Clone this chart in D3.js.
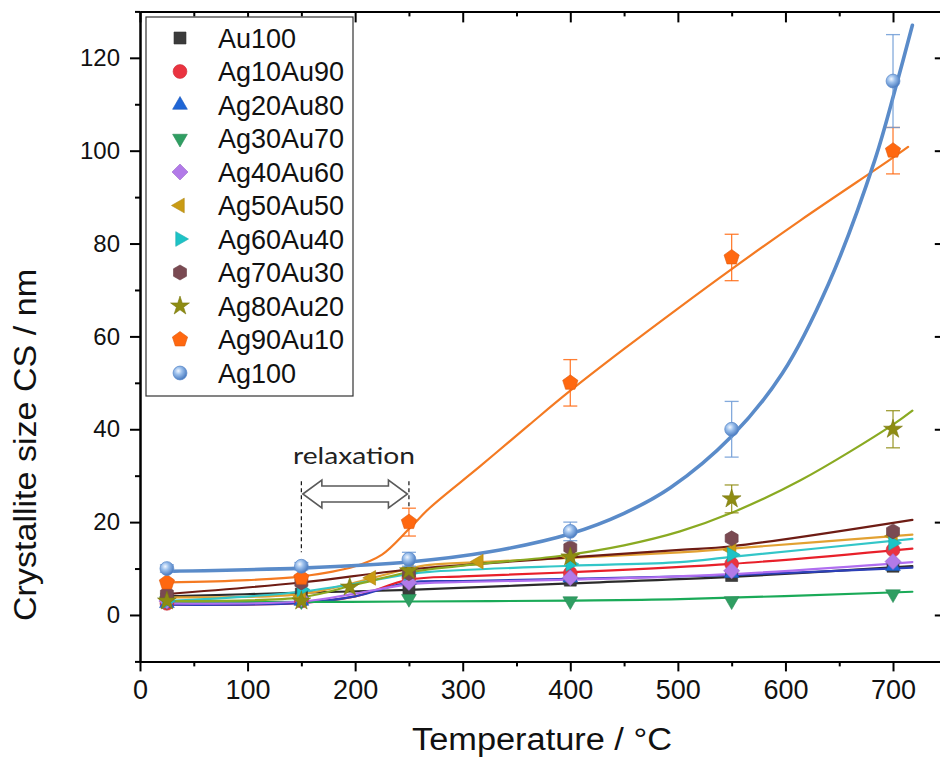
<!DOCTYPE html>
<html>
<head>
<meta charset="utf-8">
<script src="https://cdn.jsdelivr.net/npm/d3@7"></script>
<style>
  body { margin: 0; background: #fff; }
  svg text { font-family: "Liberation Sans", Arial, sans-serif; fill: #111; }
</style>
</head>
<body>
<svg id="chart" width="940" height="761"></svg>
<script>
// ---- measured crystallite sizes (nm) at each annealing temperature (°C) ----
const temps     = [25, 150, 250, 400, 550, 700];
const tempsAg80 = [25, 150, 195, 250, 400, 550, 700];
const tempsAg50 = [25, 150, 215, 250, 315, 400, 550, 700];

const au100    = [3.5, 4.5, 5.5, 7.5, 8.5, 10.5];
const ag10au90 = [2.5, 3, 8, 9, 11, 14];
const ag20au80 = [2.5, 3, 7.5, 8, 9, 10.5];
const ag30au70 = [3, 3, 3.5, 3, 3, 4.5];
const ag40au60 = [3, 3.5, 7, 8, 9.5, 11.5];
const ag50au50 = [3.5, 4, 8, 10, 11.5, 12.5, 14, 17];
const ag60au40 = [3, 5.5, 9, 11, 13, 15.5];
const ag70au30 = [4.5, 7, 9, 14.5, 16.5, 18];
const ag80au20 = [3, 3, 6, 9.5, 12.5, 25, 40];
const ag90au10 = [7, 8, 20, 50, 77, 100];
const ag100    = [10, 10.5, 12, 18, 40, 115];

// error bar half-widths (nm)
const ag80au20Err = [0, 0, 0, 0, 0, 3, 4];
const ag90au10Err = [0, 0, 3, 5, 5, 5];
const ag100Err    = [0.8, 0.8, 1.5, 2, 6, 10];

// ---- fitted trend curves (temperature, size) ----
const au100FitT    = [25, 150, 250, 400, 550, 718];
const au100Fit     = [4, 4.8, 5.4, 6.8, 8.2, 10.5];
const ag10au90FitT = [25, 150, 200, 250, 300, 400, 550, 718];
const ag10au90Fit  = [2.3, 2.6, 4, 7.6, 8.3, 9.2, 11, 14.3];
const ag20au80FitT = [25, 150, 200, 250, 300, 400, 550, 718];
const ag20au80Fit  = [2.2, 2.6, 4, 7, 7.3, 7.8, 8.6, 10.2];
const ag30au70FitT = [25, 150, 250, 400, 502, 718];
const ag30au70Fit  = [2.8, 2.8, 2.9, 3.1, 3.4, 5];
const ag40au60FitT = [25, 150, 200, 250, 300, 400, 550, 718];
const ag40au60Fit  = [2.5, 2.9, 4.6, 6.6, 7.1, 7.6, 8.8, 11.4];
const ag50au50FitT = [25, 150, 200, 250, 269, 316, 400, 502, 550, 718];
const ag50au50Fit  = [3.8, 4.5, 7, 10, 10.8, 11.4, 12.3, 13.5, 14.3, 17.3];
const ag60au40FitT = [25, 150, 250, 269, 400, 502, 550, 718];
const ag60au40Fit  = [3, 5, 8.8, 9.3, 10.6, 11.4, 12.5, 16.4];
const ag70au30FitT = [25, 150, 250, 400, 502, 550, 718];
const ag70au30Fit  = [4.5, 7, 9.8, 12.4, 14, 14.8, 20.5];
const ag80au20FitT = [25, 150, 200, 250, 316, 390, 450, 502, 550, 614, 700, 718];
const ag80au20Fit  = [3, 3.8, 6.5, 9.2, 11, 12.7, 15, 18, 22, 29, 41, 44];
const ag90au10FitT = [25, 100, 150, 200, 225, 250, 269, 316, 362, 400, 450, 500, 550, 614, 700, 714];
const ag90au10Fit  = [7, 7.5, 8.3, 10.5, 13, 18.5, 23, 32, 41, 48.3, 57.3, 66, 74.5, 85, 98.5, 100.8];
const ag100FitT    = [25, 150, 250, 325, 400, 450, 493, 550, 597, 640, 683, 704, 718];
const ag100Fit     = [9.4, 10.1, 11.4, 13.6, 17.5, 21.9, 27.4, 38.5, 52, 71.3, 97.9, 114.9, 127];

// axis ticks
const xMajorTicks = [0, 100, 200, 300, 400, 500, 600, 700];
const xMinorTicks = [50, 150, 250, 350, 450, 550, 650, 750];
const yMajorTicks = [0, 20, 40, 60, 80, 100, 120];
const yMinorTicks = [-10, 10, 30, 50, 70, 90, 110, 130];

// relaxation window
const relaxRange = [150, 250];

// ---- series definitions ----
const series = [
  { name: "Au100",    t: temps,     v: au100,    ft: au100FitT,    fv: au100Fit,    mark: "#3b3b3b", line: "#2b2b2b", shape: "square" },
  { name: "Ag10Au90", t: temps,     v: ag10au90, ft: ag10au90FitT, fv: ag10au90Fit, mark: "#ea3340", line: "#e8202a", shape: "circle" },
  { name: "Ag20Au80", t: temps,     v: ag20au80, ft: ag20au80FitT, fv: ag20au80Fit, mark: "#1f66d6", line: "#2c3fb8", shape: "triUp" },
  { name: "Ag30Au70", t: temps,     v: ag30au70, ft: ag30au70FitT, fv: ag30au70Fit, mark: "#2f9e62", line: "#1aaa58", shape: "triDown" },
  { name: "Ag40Au60", t: temps,     v: ag40au60, ft: ag40au60FitT, fv: ag40au60Fit, mark: "#b27ae8", line: "#b06ef0", shape: "diamond" },
  { name: "Ag50Au50", t: tempsAg50, v: ag50au50, ft: ag50au50FitT, fv: ag50au50Fit, mark: "#c99b14", line: "#e2a132", shape: "triLeft" },
  { name: "Ag60Au40", t: temps,     v: ag60au40, ft: ag60au40FitT, fv: ag60au40Fit, mark: "#1dc3c6", line: "#33c6c8", shape: "triRight" },
  { name: "Ag70Au30", t: temps,     v: ag70au30, ft: ag70au30FitT, fv: ag70au30Fit, mark: "#7a4a52", line: "#6e1c14", shape: "hexagon" },
  { name: "Ag80Au20", t: tempsAg80, v: ag80au20, ft: ag80au20FitT, fv: ag80au20Fit, mark: "#8e8c12", line: "#8aaa22", shape: "star", err: ag80au20Err },
  { name: "Ag90Au10", t: temps,     v: ag90au10, ft: ag90au10FitT, fv: ag90au10Fit, mark: "#ff6810", line: "#f47a22", shape: "pentagon", err: ag90au10Err },
  { name: "Ag100",    t: temps,     v: ag100,    ft: ag100FitT,    fv: ag100Fit,    mark: "#6f9bd6", line: "#5a8bc9", shape: "sphere", err: ag100Err, wide: true }
];

const svg = d3.select("#chart");

// sphere shading for the Ag100 symbol
const defs = svg.append("defs");
const grad = defs.append("radialGradient").attr("id", "sphere")
  .attr("cx", "38%").attr("cy", "35%").attr("r", "65%");
grad.append("stop").attr("offset", "0%").attr("stop-color", "#f2f7ff");
grad.append("stop").attr("offset", "40%").attr("stop-color", "#9cc0ec");
grad.append("stop").attr("offset", "100%").attr("stop-color", "#4a7bc0");

const x = d3.scaleLinear().domain([0, 750]).range([140, 946.8]);
const y = d3.scaleLinear().domain([-10, 130]).range([661.4, 11.4]);

// ---- marker shapes ----
function polygon(n, r, rot) {
  const pts = d3.range(n).map(i => {
    const a = rot + i * 2 * Math.PI / n;
    return [r * Math.sin(a), -r * Math.cos(a)];
  });
  return "M" + pts.map(p => p[0].toFixed(2) + "," + p[1].toFixed(2)).join("L") + "Z";
}
function shapePath(shape) {
  switch (shape) {
    case "square":   return "M-6,-6H6V6H-6Z";
    case "circle":   return d3.symbol(d3.symbolCircle, 150)();
    case "triUp":    return polygon(3, 8.5, 0);
    case "triDown":  return polygon(3, 8.5, Math.PI);
    case "triLeft":  return polygon(3, 8.5, -Math.PI / 2);
    case "triRight": return polygon(3, 8.5, Math.PI / 2);
    case "diamond":  return polygon(4, 8, 0);
    case "hexagon":  return polygon(6, 7.5, 0);
    case "pentagon": return polygon(5, 8, 0);
    case "star":     return d3.symbol(d3.symbolStar, 110)();
    default:         return d3.symbol(d3.symbolCircle, 150)();
  }
}
function drawMarker(g, s, cx, cy) {
  const p = g.append("path").attr("d", shapePath(s.shape))
    .attr("transform", `translate(${cx},${cy})`);
  if (s.shape === "sphere") {
    p.attr("fill", "url(#sphere)").attr("stroke", "#5d8ccc").attr("stroke-width", 0.8);
  } else {
    p.attr("fill", s.mark).attr("stroke", d3.color(s.mark).darker(0.4)).attr("stroke-width", 0.6);
  }
}

// ---- fit lines ----
const lineGen = d3.line().curve(d3.curveCatmullRom.alpha(0.5))
  .x(d => x(d[0])).y(d => y(d[1]));
const linesG = svg.append("g");
series.forEach(s => {
  linesG.append("path")
    .datum(s.ft.map((t, i) => [t, s.fv[i]]))
    .attr("d", lineGen)
    .attr("fill", "none")
    .attr("stroke", s.line)
    .attr("stroke-width", s.wide ? 3.6 : 2.2)
    .attr("stroke-linecap", "round");
});

// ---- error bars and symbols ----
const markG = svg.append("g");
series.forEach(s => {
  s.t.forEach((t, i) => {
    const e = s.err ? s.err[i] : 0;
    if (e > 0) {
      const cx = x(t), c = d3.color(s.mark).copy({ opacity: 0.85 });
      markG.append("line").attr("x1", cx).attr("x2", cx)
        .attr("y1", y(s.v[i] - e)).attr("y2", y(s.v[i] + e))
        .attr("stroke", c).attr("stroke-width", 1.3);
      [s.v[i] - e, s.v[i] + e].forEach(v => {
        markG.append("line").attr("x1", cx - 7).attr("x2", cx + 7)
          .attr("y1", y(v)).attr("y2", y(v))
          .attr("stroke", c).attr("stroke-width", 1.3);
      });
    }
    drawMarker(markG, s, x(t), y(s.v[i]));
  });
});

// ---- relaxation annotation ----
const annG = svg.append("g");
annG.append("line").attr("x1", x(relaxRange[0])).attr("x2", x(relaxRange[0]))
  .attr("y1", y(28.8)).attr("y2", y(13.5))
  .attr("stroke", "#111").attr("stroke-width", 1.2).attr("stroke-dasharray", "4,3");
annG.append("line").attr("x1", x(relaxRange[1])).attr("x2", x(relaxRange[1]))
  .attr("y1", y(28.8)).attr("y2", y(23))
  .attr("stroke", "#111").attr("stroke-width", 1.2).attr("stroke-dasharray", "4,3");
{
  const x0 = x(relaxRange[0]) + 1.5, x1 = x(relaxRange[1]) - 1.5, cy = 494;
  const hw = 14, sw = 8, hl = 19;
  const d = `M${x0},${cy} L${x0 + hl},${cy - hw} L${x0 + hl},${cy - sw} L${x1 - hl},${cy - sw}` +
            ` L${x1 - hl},${cy - hw} L${x1},${cy} L${x1 - hl},${cy + hw} L${x1 - hl},${cy + sw}` +
            ` L${x0 + hl},${cy + sw} L${x0 + hl},${cy + hw} Z`;
  annG.append("path").attr("d", d).attr("fill", "#fff")
    .attr("stroke", "#5a5a5a").attr("stroke-width", 1.6).attr("stroke-linejoin", "miter");
}
annG.append("text").attr("x", 354).attr("y", 464).attr("text-anchor", "middle")
  .style("font-family", "Lato, 'Open Sans', sans-serif").style("font-size", "23px")
  .attr("textLength", 122).attr("lengthAdjust", "spacingAndGlyphs")
  .style("fill", "#222").text("relaxation");

// ---- axes ----
function styleAxis(g) {
  g.selectAll(".domain").attr("stroke", "#000").attr("stroke-width", 2);
  g.selectAll(".tick line").attr("stroke", "#000").attr("stroke-width", 2);
}
const axG = svg.append("g");
// bottom
axG.append("g").attr("transform", `translate(0,${y(-10)})`)
  .call(d3.axisBottom(x).tickValues(xMajorTicks).tickSize(10).tickPadding(8).tickSizeOuter(0))
  .call(styleAxis)
  .call(g => g.selectAll("text").style("font-size", "27px").attr("fill", "#111"));
axG.append("g").attr("transform", `translate(0,${y(-10)})`)
  .call(d3.axisBottom(x).tickValues(xMinorTicks).tickSize(5).tickFormat("").tickSizeOuter(0))
  .call(styleAxis);
// top (ticks inward)
axG.append("g").attr("transform", `translate(0,${y(130)})`)
  .call(d3.axisBottom(x).tickValues(xMajorTicks).tickSize(11).tickFormat("").tickSizeOuter(0))
  .call(styleAxis);
axG.append("g").attr("transform", `translate(0,${y(130)})`)
  .call(d3.axisBottom(x).tickValues(xMinorTicks).tickSize(5).tickFormat("").tickSizeOuter(0))
  .call(styleAxis);
// left
axG.append("g").attr("transform", `translate(${x(0)},0)`)
  .call(d3.axisLeft(y).tickValues(yMajorTicks).tickSize(10).tickPadding(10).tickSizeOuter(0))
  .call(styleAxis)
  .call(g => g.selectAll("text").style("font-size", "24px").attr("fill", "#111"));
axG.append("g").attr("transform", `translate(${x(0)},0)`)
  .call(d3.axisLeft(y).tickValues(yMinorTicks).tickSize(5).tickFormat("").tickSizeOuter(0))
  .call(styleAxis);
// right (ticks inward)
axG.append("g").attr("transform", `translate(${x(750)},0)`)
  .call(d3.axisLeft(y).tickValues(yMajorTicks).tickSize(12).tickFormat("").tickSizeOuter(0))
  .call(styleAxis);
axG.selectAll("text").attr("font-family", null);

// axis titles
svg.append("text").attr("x", 542).attr("y", 750).attr("text-anchor", "middle")
  .style("font-size", "31px").attr("textLength", 260).attr("lengthAdjust", "spacingAndGlyphs")
  .text("Temperature / °C");
svg.append("text").attr("transform", "translate(36,445) rotate(-90)").attr("text-anchor", "middle")
  .style("font-size", "32px").attr("textLength", 352).attr("lengthAdjust", "spacingAndGlyphs")
  .text("Crystallite size CS / nm");

// ---- legend ----
const legG = svg.append("g");
legG.append("rect").attr("x", 146).attr("y", 17).attr("width", 207).attr("height", 379)
  .attr("fill", "#fff").attr("stroke", "#333").attr("stroke-width", 1.2);
series.forEach((s, i) => {
  const cy = 38 + i * 33.5;
  drawMarker(legG, s, 180, cy);
  legG.append("text").attr("x", 218).attr("y", cy + 9.5)
    .style("font-size", "27px").text(s.name);
});
</script>
</body>
</html>
